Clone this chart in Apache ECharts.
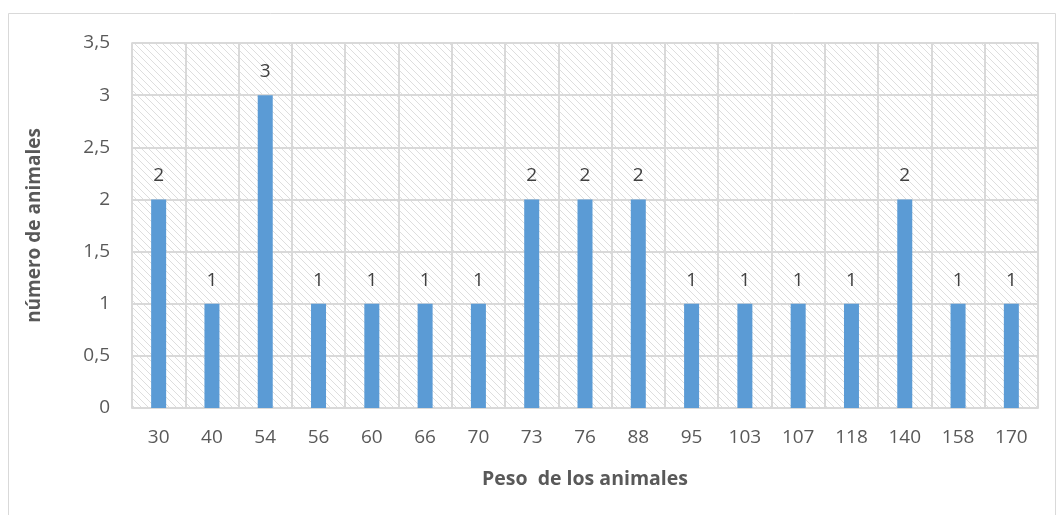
<!DOCTYPE html>
<html>
<head>
<meta charset="utf-8">
<script src="https://cdn.jsdelivr.net/npm/echarts@6/dist/echarts.min.js"></script>
<style>
  html, body { margin: 0; padding: 0; background: #fff; }
  #chart { width: 1056px; height: 515px; }
</style>
</head>
<body>
<div id="chart"></div>
<script>
// Weights of the animals (x categories) and how many animals have each weight
const pesos = ['30', '40', '54', '56', '60', '66', '70', '73', '76', '88', '95', '103', '107', '118', '140', '158', '170'];
const numeroAnimales = [2, 1, 3, 1, 1, 1, 1, 2, 2, 2, 1, 1, 1, 1, 2, 1, 1];
const yTicks = { min: 0, max: 3.5, interval: 0.5 };

// Diagonal hatch tile for the plot background
function hatchTile() {
  const s = 7;
  const c = document.createElement('canvas');
  c.width = s; c.height = s;
  const g = c.getContext('2d');
  g.fillStyle = '#ffffff';
  g.fillRect(0, 0, s, s);
  g.strokeStyle = '#dedede';
  g.lineWidth = 1;
  g.beginPath();
  g.moveTo(-1, -1); g.lineTo(s + 1, s + 1);
  g.moveTo(-1, s - 1); g.lineTo(1, s + 1);
  g.moveTo(s - 1, -1); g.lineTo(s + 1, 1);
  g.stroke();
  return c;
}

const textColor = '#595959';
const lineColor = '#d9d9d9';
const font = 'Open Sans, Liberation Sans, sans-serif';

const chart = echarts.init(document.getElementById('chart'), null, { renderer: 'canvas' });
chart.setOption({
  animation: false,
  backgroundColor: '#ffffff',
  textStyle: { fontFamily: font },
  graphic: [{
    type: 'rect',
    shape: { x: 8.5, y: 13.5, width: 1047, height: 520 },
    style: { fill: 'none', stroke: lineColor, lineWidth: 1 },
    silent: true,
    z: -10
  }],
  grid: {
    left: 132, right: 18, top: 43, bottom: 107,
    show: true,
    backgroundColor: { image: hatchTile(), repeat: 'repeat' },
    borderColor: lineColor,
    borderWidth: 1.5
  },
  xAxis: {
    type: 'category',
    data: pesos,
    boundaryGap: true,
    name: 'Peso  de los animales',
    nameLocation: 'middle',
    nameGap: 61,
    nameTextStyle: { color: textColor, fontSize: 19.5, fontWeight: 'bold', fontFamily: font },
    axisLine: { show: true, lineStyle: { color: lineColor, width: 1.5 } },
    axisTick: { show: false },
    axisLabel: { color: textColor, fontSize: 19, margin: 20, fontFamily: font },
    splitLine: { show: true, interval: 0, lineStyle: { color: lineColor, width: 2 } }
  },
  yAxis: {
    type: 'value',
    min: yTicks.min, max: yTicks.max, interval: yTicks.interval,
    name: 'número de animales',
    nameLocation: 'middle',
    nameGap: 88,
    nameTextStyle: { color: textColor, fontSize: 19, fontWeight: 'bold', fontFamily: font },
    axisLine: { show: false },
    axisTick: { show: false },
    axisLabel: {
      color: textColor, fontSize: 19, margin: 22, fontFamily: font,
      formatter: v => String(v).replace('.', ',')
    },
    splitLine: { show: true, lineStyle: { color: lineColor, width: 2 } }
  },
  series: [{
    type: 'bar',
    data: numeroAnimales,
    barWidth: 15,
    itemStyle: { color: '#5b9bd5' },
    label: {
      show: true,
      position: 'top',
      distance: 14,
      color: '#404040',
      fontSize: 19,
      fontFamily: font
    }
  }]
});
</script>
</body>
</html>
